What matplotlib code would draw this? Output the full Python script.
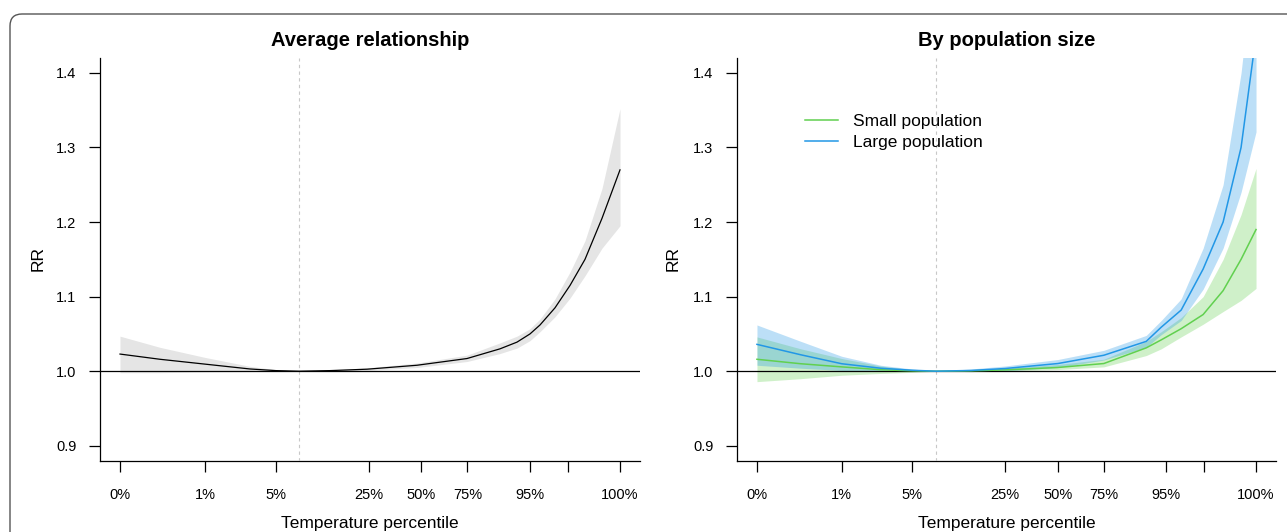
import numpy as np
import matplotlib
matplotlib.use("Agg")
import matplotlib.pyplot as plt
from matplotlib.patches import FancyBboxPatch
from matplotlib.transforms import IdentityTransform

plt.rcParams['font.family'] = ['Liberation Sans', 'DejaVu Sans']

# x positions on the percentile axis (0 = 0%, 1 = 100%)
tick_pos = [0, 0.17, 0.311, 0.497, 0.603, 0.695, 0.819, 0.895, 1.0]
tick_labels = ['0%', '1%', '5%', '25%', '50%', '75%', '95%', '', '100%']
ref_pos = 0.358

# average relationship
avg_x = [0, 0.08, 0.17, 0.26, 0.312, 0.358, 0.42, 0.494, 0.594, 0.694,
         0.76, 0.794, 0.82, 0.84, 0.87, 0.90, 0.93, 0.964, 1.0]
avg_rr = [1.023, 1.016, 1.0095, 1.003, 1.0008, 1.0, 1.0008, 1.0027, 1.008,
          1.017, 1.030, 1.039, 1.050, 1.062, 1.085, 1.115, 1.150, 1.205, 1.27]
avg_lo = [0.998, 0.998, 0.999, 0.9995, 0.9998, 1.0, 0.9996, 1.001, 1.005,
          1.013, 1.0237, 1.031, 1.041, 1.053, 1.073, 1.098, 1.128, 1.165, 1.195]
avg_hi = [1.047, 1.032, 1.0185, 1.0065, 1.002, 1.0, 1.0018, 1.0045, 1.011,
          1.0215, 1.038, 1.047, 1.057, 1.070, 1.097, 1.133, 1.175, 1.245, 1.352]

# by population size
pop_x = [0, 0.088, 0.17, 0.248, 0.311, 0.359, 0.429, 0.497, 0.603, 0.695,
         0.78, 0.81, 0.85, 0.894, 0.934, 0.97, 1.0]
small_rr = [1.016, 1.010, 1.0058, 1.002, 1.0005, 1.0, 1.0005, 1.0018, 1.005,
            1.0103, 1.0313, 1.042, 1.057, 1.076, 1.108, 1.15, 1.19]
small_lo = [0.986, 0.990, 0.9946, 0.997, 0.9985, 1.0, 0.9995, 1.0005, 1.0022,
            1.0058, 1.021, 1.030, 1.046, 1.063, 1.08, 1.095, 1.111]
small_hi = [1.046, 1.030, 1.017, 1.007, 1.002, 1.0, 1.002, 1.004, 1.009,
            1.016, 1.040, 1.053, 1.072, 1.10, 1.15, 1.21, 1.272]
large_rr = [1.036, 1.022, 1.010, 1.004, 1.0013, 1.0, 1.001, 1.0036, 1.0103,
            1.0214, 1.040, 1.059, 1.082, 1.137, 1.20, 1.30, 1.45]
large_lo = [1.008, 1.004, 1.001, 1.0, 0.9995, 1.0, 0.9995, 1.0005, 1.005,
            1.015, 1.032, 1.049, 1.068, 1.11, 1.165, 1.24, 1.321]
large_hi = [1.062, 1.040, 1.020, 1.008, 1.003, 1.0, 1.003, 1.007, 1.0157,
            1.028, 1.048, 1.068, 1.097, 1.165, 1.25, 1.40, 1.58]

GREEN = '#61D04F'
BLUE = '#2297E6'

W, H = 1287, 532
fig = plt.figure(figsize=(W / 100, H / 100), dpi=100)


def px_axes(x0, x1, y0, y1):
    return fig.add_axes([x0 / W, 1 - y1 / H, (x1 - x0) / W, (y1 - y0) / H])


def style(ax, title):
    ax.set_xlim(-0.04, 1.04)
    ax.set_ylim(0.88, 1.42)
    for s in ['top', 'right']:
        ax.spines[s].set_visible(False)
    for s in ['left', 'bottom']:
        ax.spines[s].set_linewidth(0.9)
    ax.set_xticks(tick_pos)
    ax.set_xticklabels(tick_labels)
    ax.set_yticks([0.9, 1.0, 1.1, 1.2, 1.3, 1.4])
    ax.set_yticklabels(['0.9', '1.0', '1.1', '1.2', '1.3', '1.4'])
    ax.tick_params(axis='x', length=8, width=0.9, pad=12, labelsize=10.5)
    ax.tick_params(axis='y', length=8, width=0.9, pad=9, labelsize=10.5)
    ax.set_title(title, fontsize=14.5, fontweight='bold', pad=9)
    ax.set_xlabel('Temperature percentile', fontsize=12.5)
    ax.xaxis.set_label_coords(0.5, -0.155)
    ax.xaxis.label.set_va('center')
    ax.set_ylabel('RR', fontsize=12.5)
    ax.axvline(ref_pos, color='#c8c8c8', lw=0.8, dashes=(3, 3), zorder=3)
    ax.axhline(1.0, color='black', lw=0.9, zorder=4)


# left panel
ax1 = px_axes(100, 640, 58, 460.7)
ax1.fill_between(avg_x, avg_lo, avg_hi, color='#E5E5E5', lw=0, zorder=1)
style(ax1, 'Average relationship')
ax1.plot(avg_x, avg_rr, color='black', lw=0.9, zorder=5)
ax1.yaxis.set_label_coords(-0.100, 0.503)

# right panel
ax2 = px_axes(737, 1276, 58, 460.7)
ax2.fill_between(pop_x, small_lo, small_hi, color=GREEN, alpha=0.3, lw=0, zorder=1)
ax2.fill_between(pop_x, large_lo, large_hi, color=BLUE, alpha=0.3, lw=0, zorder=2)
style(ax2, 'By population size')
ax2.plot(pop_x, small_rr, color=GREEN, lw=1.1, zorder=5, label='Small population')
ax2.plot(pop_x, large_rr, color=BLUE, lw=1.1, zorder=5, label='Large population')
ax2.yaxis.set_label_coords(-0.105, 0.503)
ax2.legend(loc='upper left', bbox_to_anchor=(0.126, 0.861), frameon=False,
           fontsize=12.5, handlelength=1.9, handletextpad=0.85,
           labelspacing=0.33, borderpad=0, borderaxespad=0)

# rounded frame around the figure
frame = FancyBboxPatch((10, -13), 1300, 531, boxstyle='round,pad=0,rounding_size=12',
                       transform=IdentityTransform(), fill=False,
                       edgecolor='#555555', lw=1.0)
fig.add_artist(frame)

fig.savefig('out.png', dpi=100)
